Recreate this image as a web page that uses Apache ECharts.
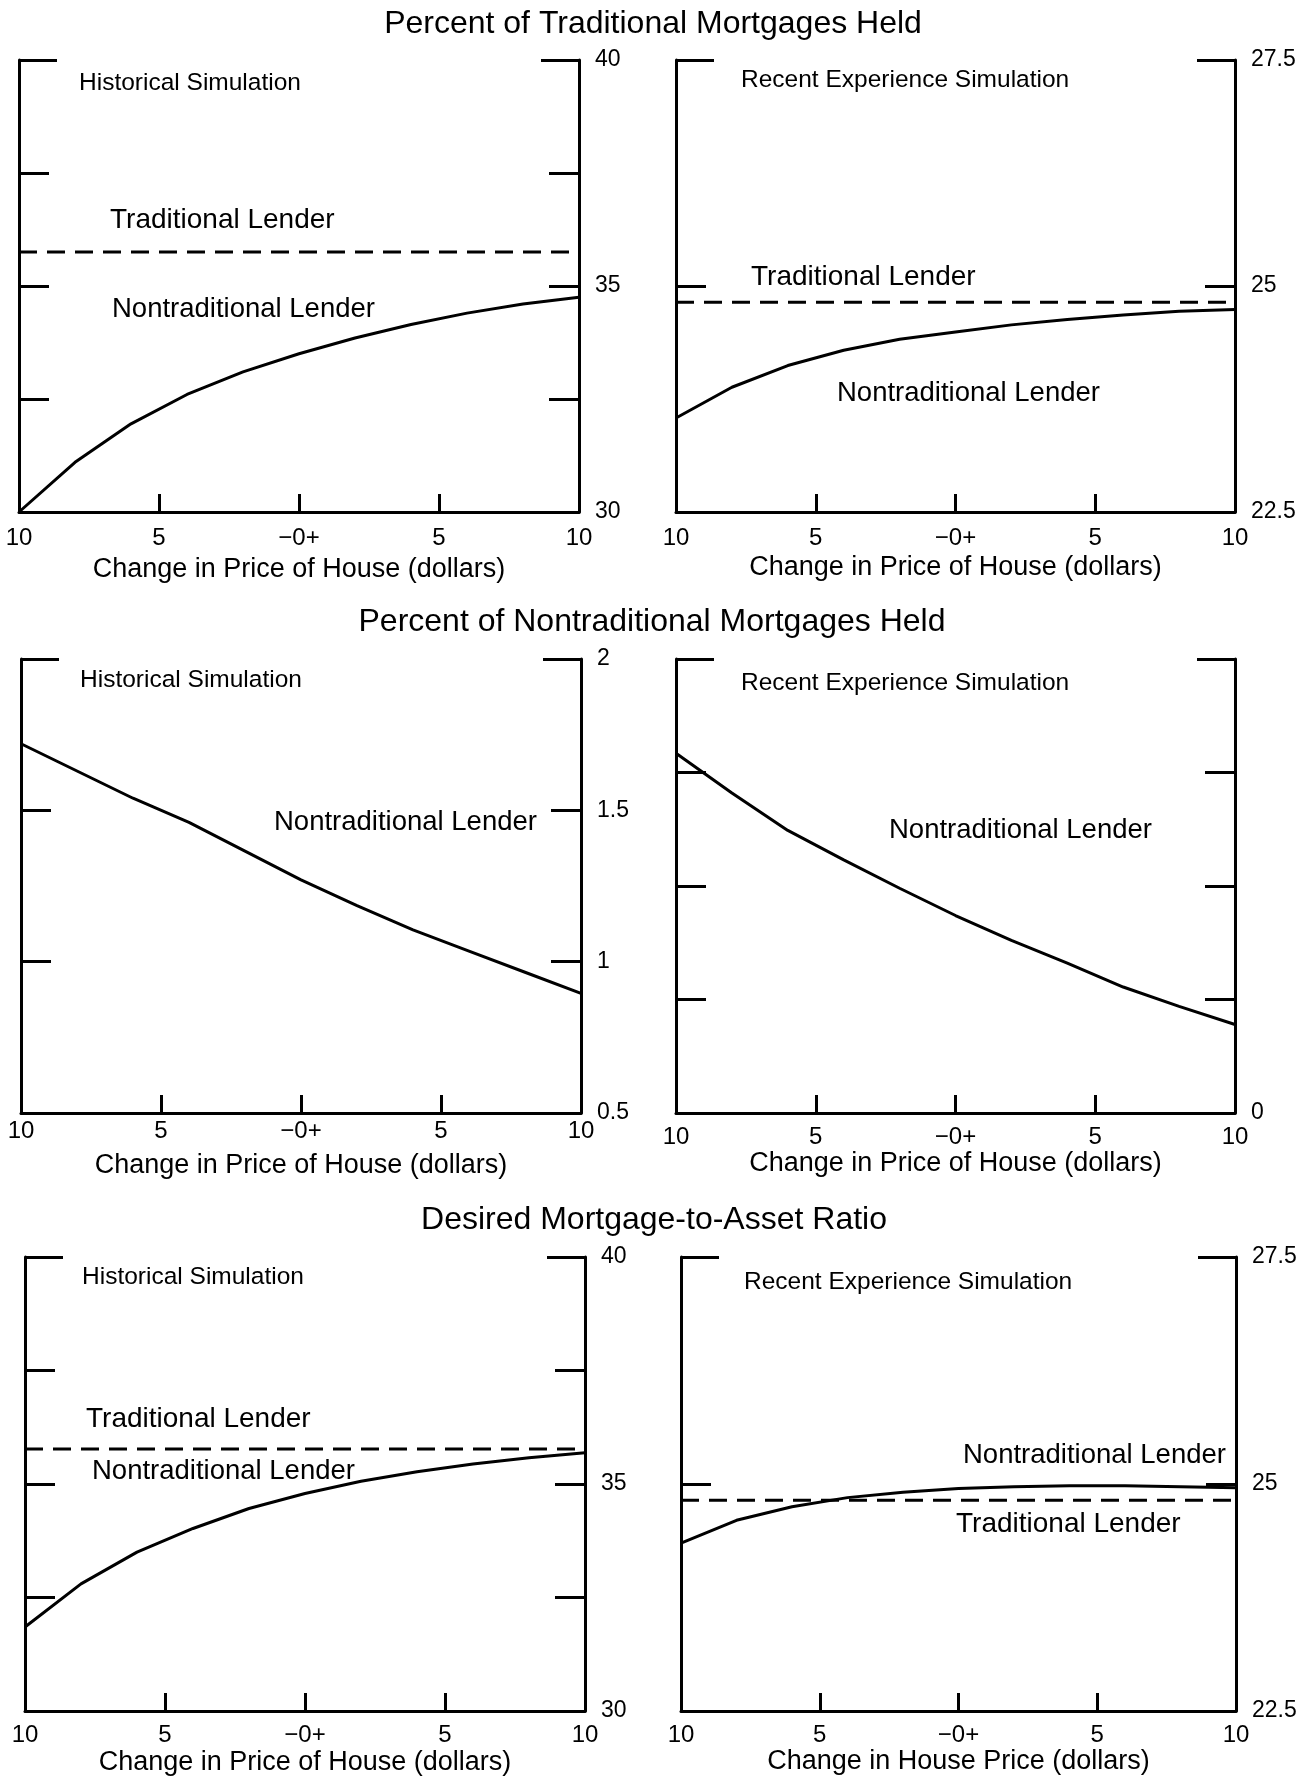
<!DOCTYPE html>
<html>
<head>
<meta charset="utf-8">
<script src="https://cdn.jsdelivr.net/npm/echarts@6/dist/echarts.min.js"></script>
<style>
  html, body { margin: 0; padding: 0; background: #fff; }
  #main { width: 1312px; height: 1780px; }
</style>
</head>
<body>
<div id="main"></div>
<script>
// change in price of house, dollars (left = -10, right = +10)
const priceChange = [-10, -8, -6, -4, -2, 0, 2, 4, 6, 8, 10];
const lineEnds = [-10, 10];
const xTickLabels = ['10', '5', '\u22120+', '5', '10'];

// tick labels shown on the right-hand axes
const histPctLabels = ['30', '35', '40'];
const recentPctLabels = ['22.5', '25', '27.5'];
const histNontradLabels = ['0.5', '1', '1.5', '2'];
const recentNontradLabels = ['0'];

// Percent of Traditional Mortgages Held
const tradHeldHistTrad = [35.75, 35.75];
const tradHeldHistNontrad = [30.0, 31.1, 31.95, 32.6, 33.1, 33.5, 33.85, 34.15, 34.4, 34.6, 34.75];
const tradHeldRecentTrad = [24.82, 24.82];
const tradHeldRecentNontrad = [23.54, 23.88, 24.12, 24.29, 24.41, 24.49, 24.57, 24.63, 24.68, 24.72, 24.74];

// Percent of Nontraditional Mortgages Held
const nontradHeldHist = [1.72, 1.63, 1.54, 1.46, 1.365, 1.27, 1.185, 1.105, 1.035, 0.965, 0.895];
const nontradHeldRecent = [1.585, 1.41, 1.245, 1.115, 0.99, 0.87, 0.76, 0.66, 0.555, 0.47, 0.39];

// Desired Mortgage-to-Asset Ratio
const ratioHistTrad = [35.77, 35.77];
const ratioHistNontrad = [31.85, 32.8, 33.5, 34.02, 34.46, 34.79, 35.06, 35.27, 35.44, 35.58, 35.69];
const ratioRecentTrad = [24.82, 24.82];
const ratioRecentNontrad = [24.35, 24.6, 24.75, 24.85, 24.91, 24.95, 24.97, 24.98, 24.98, 24.97, 24.96];

const FONT = 'Liberation Sans, Arial, Helvetica, sans-serif';
const INK = '#000';
const LW = 3;

const nameOld = 'Change in Price of House (dollars)';
const nameNew = 'Change in House Price (dollars)';

const panels = [
  { grid: { left: 19, top: 60, width: 560, height: 452 }, min: 30, max: 40, labels: histPctLabels,
    xName: nameOld, margin: 14, nameGap: 44,
    lines: [{ x: lineEnds, y: tradHeldHistTrad, dashed: true }, { x: priceChange, y: tradHeldHistNontrad }] },
  { grid: { left: 676, top: 60, width: 559, height: 452 }, min: 22.5, max: 27.5, labels: recentPctLabels,
    xName: nameOld, margin: 14, nameGap: 42,
    lines: [{ x: lineEnds, y: tradHeldRecentTrad, dashed: true }, { x: priceChange, y: tradHeldRecentNontrad }] },
  { grid: { left: 21, top: 659, width: 560, height: 454 }, min: 0.5, max: 2, labels: histNontradLabels,
    xName: nameOld, margin: 6, nameGap: 39,
    lines: [{ x: priceChange, y: nontradHeldHist }] },
  { grid: { left: 676, top: 659, width: 559, height: 454 }, min: 0, max: 2, labels: recentNontradLabels,
    xName: nameOld, margin: 12, nameGap: 35,
    lines: [{ x: priceChange, y: nontradHeldRecent }] },
  { grid: { left: 25, top: 1257, width: 560, height: 454 }, min: 30, max: 40, labels: histPctLabels,
    xName: nameOld, margin: 12, nameGap: 38,
    lines: [{ x: lineEnds, y: ratioHistTrad, dashed: true }, { x: priceChange, y: ratioHistNontrad }] },
  { grid: { left: 681, top: 1257, width: 555, height: 454 }, min: 22.5, max: 27.5, labels: recentPctLabels,
    xName: nameNew, margin: 12, nameGap: 36,
    lines: [{ x: lineEnds, y: ratioRecentTrad, dashed: true }, { x: priceChange, y: ratioRecentNontrad }] }
];

const titles = [
  { text: 'Percent of Traditional Mortgages Held', x: 653, y: 24 },
  { text: 'Percent of Nontraditional Mortgages Held', x: 652, y: 622 },
  { text: 'Desired Mortgage-to-Asset Ratio', x: 654, y: 1220 }
];

const notes = [
  { text: 'Historical Simulation', x: 79, y: 83, size: 24.5 },
  { text: 'Traditional Lender', x: 110, y: 220, size: 28 },
  { text: 'Nontraditional Lender', x: 112, y: 309, size: 27.5 },
  { text: 'Recent Experience Simulation', x: 741, y: 80, size: 24.5 },
  { text: 'Traditional Lender', x: 751, y: 277, size: 28 },
  { text: 'Nontraditional Lender', x: 837, y: 393, size: 27.5 },
  { text: 'Historical Simulation', x: 80, y: 680, size: 24.5 },
  { text: 'Nontraditional Lender', x: 274, y: 822, size: 27.5 },
  { text: 'Recent Experience Simulation', x: 741, y: 683, size: 24.5 },
  { text: 'Nontraditional Lender', x: 889, y: 830, size: 27.5 },
  { text: 'Historical Simulation', x: 82, y: 1277, size: 24.5 },
  { text: 'Traditional Lender', x: 86, y: 1419, size: 28 },
  { text: 'Nontraditional Lender', x: 92, y: 1471, size: 27.5 },
  { text: 'Recent Experience Simulation', x: 744, y: 1282, size: 24.5 },
  { text: 'Nontraditional Lender', x: 963, y: 1455, size: 27.5 },
  { text: 'Traditional Lender', x: 956, y: 1524, size: 28 }
];

const grids = [], xAxes = [], yAxes = [], series = [];

panels.forEach((p, g) => {
  grids.push(p.grid);
  const span = p.max - p.min;
  const step = g === 2 || g === 3 ? 0.5 : 2.5;

  xAxes.push({
    type: 'value', gridIndex: g, min: -10, max: 10, interval: 5,
    axisLine: { onZero: false, lineStyle: { color: INK, width: LW } },
    axisTick: { inside: true, length: 18, lineStyle: { color: INK, width: LW } },
    splitLine: { show: false },
    axisLabel: {
      color: INK, fontSize: 24, fontFamily: FONT, margin: p.margin,
      formatter: v => xTickLabels[Math.round((v + 10) / 5)]
    },
    name: p.xName, nameLocation: 'middle', nameGap: p.nameGap,
    nameTextStyle: { color: INK, fontSize: 27, fontFamily: FONT }
  });

  const base = {
    type: 'value', gridIndex: g, min: p.min, max: p.max, interval: step,
    splitLine: { show: false },
    axisLine: { show: true, onZero: false, lineStyle: { color: INK, width: LW } },
    axisTick: { show: true, inside: true, length: 30, lineStyle: { color: INK, width: LW } },
    axisLabel: { show: false }
  };
  // left frame
  yAxes.push(Object.assign({}, base, { position: 'left' }));
  // right frame with value labels
  yAxes.push(Object.assign({}, base, {
    position: 'right',
    axisLabel: {
      show: true, color: INK, fontSize: 23, fontFamily: FONT, margin: 16,
      formatter: v => (p.labels.indexOf(String(v)) >= 0 ? String(v) : '')
    }
  }));
  // longer bracket ticks at the top of both sides
  ['left', 'right'].forEach(side => {
    yAxes.push(Object.assign({}, base, {
      position: side, interval: span,
      axisLine: { show: false, onZero: false },
      axisTick: { show: true, inside: true, length: 38, lineStyle: { color: INK, width: LW } }
    }));
  });

  p.lines.forEach(ln => {
    series.push({
      type: 'line', xAxisIndex: g, yAxisIndex: g * 4 + 1,
      data: ln.x.map((v, i) => [v, ln.y[i]]),
      showSymbol: false, symbol: 'none', silent: true,
      lineStyle: { color: INK, width: LW, type: ln.dashed ? [18, 10] : 'solid' },
      z: 3
    });
  });
});

const graphics = titles.map(t => ({
  type: 'text', x: t.x, y: t.y,
  style: { text: t.text, fill: INK, fontSize: 32, fontFamily: FONT,
           align: 'center', verticalAlign: 'middle', textAlign: 'center', textVerticalAlign: 'middle' }
})).concat(notes.map(n => ({
  type: 'text', x: n.x, y: n.y,
  style: { text: n.text, fill: INK, fontSize: n.size, fontFamily: FONT,
           align: 'left', verticalAlign: 'middle', textAlign: 'left', textVerticalAlign: 'middle' }
})));

const myChart = echarts.init(document.getElementById('main'), null, { renderer: 'canvas' });
myChart.setOption({
  animation: false,
  backgroundColor: '#fff',
  grid: grids,
  xAxis: xAxes,
  yAxis: yAxes,
  series: series,
  graphic: graphics
});
</script>
</body>
</html>
